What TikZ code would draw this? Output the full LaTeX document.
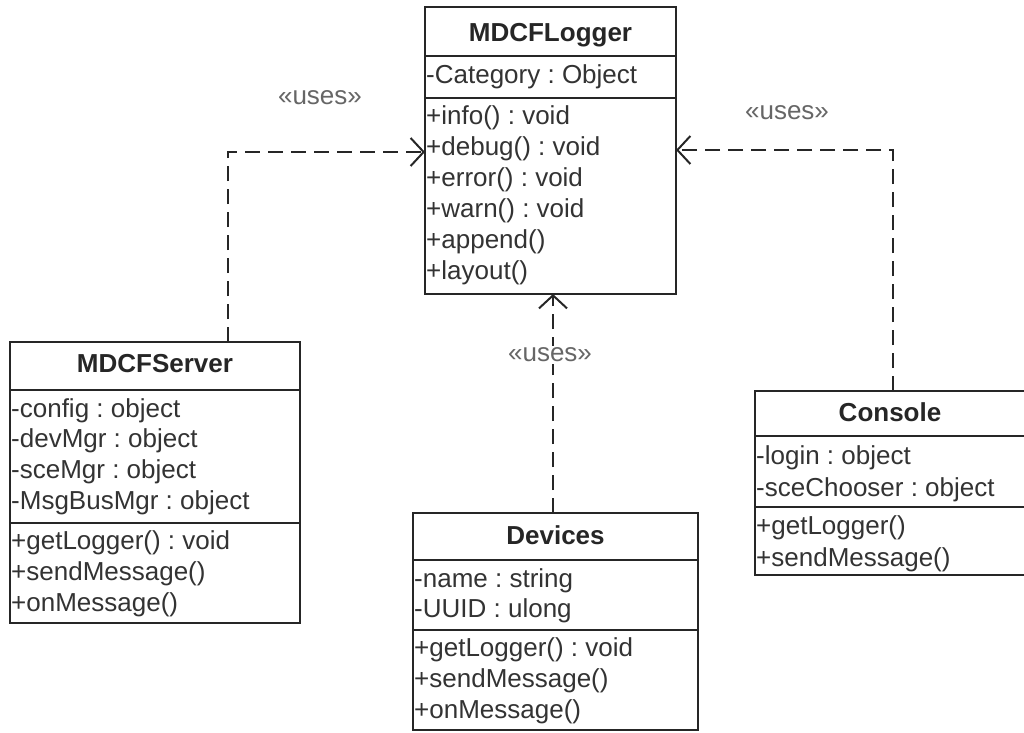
\documentclass[tikz,border=0pt]{standalone}
\usepackage{fontspec}
\setmainfont{Liberation Sans}
\usetikzlibrary{arrows.meta}
\frenchspacing
\begin{document}
\begin{tikzpicture}[x=1pt,y=-1pt,
  box/.style={draw=black!85, line width=2pt, anchor=north west, inner sep=0pt, outer sep=0pt},
  ttl/.style={font=\fontsize{26}{31}\selectfont\bfseries, text=black!85, anchor=base, inner sep=0pt},
  mem/.style={font=\fontsize{26}{31}\selectfont\frenchspacing, text=black!80, anchor=base west, inner sep=0pt},
  lbl/.style={font=\fontsize{26}{31}\selectfont, text=black!60, inner sep=0pt},
  uses/.style={draw=black!85, line width=2pt, dash pattern=on 15pt off 8pt,
    -{Straight Barb[length=13pt,width=28pt,line width=2pt]}}
]
\clip (0,0) rectangle (1024,732);
\fill[white] (0,0) rectangle (1024,732);

% ---------- MDCFLogger ----------
\node[box, minimum width=251pt, minimum height=49pt] (logT) at (425,7) {};
\node[box, minimum width=251pt, minimum height=42pt] (logA) at (425,56) {};
\node[box, minimum width=251pt, minimum height=196pt] (logM) at (425,98) {};
\node[ttl] (logTt) at (550.5,41) {MDCFLogger};
\node[mem] (loga1) at (426,83) {-Category : Object};
\foreach \t [count=\i] in {+info() : void,+debug() : void,+error() : void,+warn() : void,+append(),+layout()}
  \node[mem] (logm\i) at (426,{93+31*\i}) {\t};

% ---------- MDCFServer ----------
\node[box, minimum width=290pt, minimum height=48pt] (srvT) at (10,342) {};
\node[box, minimum width=290pt, minimum height=133pt] (srvA) at (10,390) {};
\node[box, minimum width=290pt, minimum height=100pt] (srvM) at (10,523) {};
\node[ttl] (srvTt) at (155,372) {MDCFServer};
\foreach \t [count=\i] in {-config : object,-devMgr : object,-sceMgr : object,-MsgBusMgr : object}
  \node[mem] (srva\i) at (11,{386.5+30.7*\i}) {\t};
\foreach \t [count=\i] in {+getLogger() : void,+sendMessage(),+onMessage()}
  \node[mem] (srvm\i) at (11,{518+31*\i}) {\t};

% ---------- Devices ----------
\node[box, minimum width=285pt, minimum height=47pt] (devT) at (413,513) {};
\node[box, minimum width=285pt, minimum height=70pt] (devA) at (413,560) {};
\node[box, minimum width=285pt, minimum height=100pt] (devM) at (413,630) {};
\node[ttl] (devTt) at (555.5,544) {Devices};
\foreach \t [count=\i] in {-name : string,-UUID : ulong}
  \node[mem] (deva\i) at (414,{557+30*\i}) {\t};
\foreach \t [count=\i] in {+getLogger() : void,+sendMessage(),+onMessage()}
  \node[mem] (devm\i) at (414,{625+31*\i}) {\t};

% ---------- Console ----------
\node[box, minimum width=271pt, minimum height=45pt] (conT) at (755,391) {};
\node[box, minimum width=271pt, minimum height=71pt] (conA) at (755,436) {};
\node[box, minimum width=271pt, minimum height=68pt] (conM) at (755,507) {};
\node[ttl] (conTt) at (890,421) {Console};
\foreach \t [count=\i] in {-login : object,-sceChooser : object}
  \node[mem] (cona\i) at (756,{432+32*\i}) {\t};
\foreach \t [count=\i] in {+getLogger(),+sendMessage()}
  \node[mem] (conm\i) at (756,{502+32*\i}) {\t};

% ---------- connectors ----------
\coordinate (lc) at (228,152);
\coordinate (rc) at (893,150);
\coordinate (mc) at (553,400);
\draw[uses] (lc |- srvT.north) -- (lc) -- (lc -| logM.west);
\draw[uses] (rc |- conT.north) -- (rc) -- (rc -| logM.east);
\draw[uses] (mc |- devT.north) -- (mc |- logM.south);

\node[lbl] (u1) at (320,98) {«uses»};
\node[lbl] (u2) at (787,113) {«uses»};
\node[lbl, fill=white, inner sep=2pt] (u3) at (550,355) {«uses»};
\end{tikzpicture}
\end{document}
